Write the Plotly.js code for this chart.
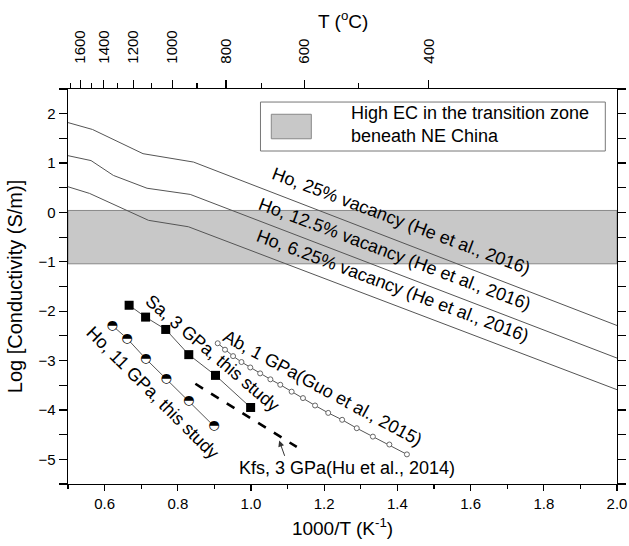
<!DOCTYPE html>
<html>
<head>
<meta charset="utf-8">
<script src="https://cdn.plot.ly/plotly-3.0.1.min.js"></script>
<style>html,body{margin:0;padding:0;background:#fff}#chart{width:629px;height:546px}</style>
</head>
<body>
<div id="chart"></div>
<script>
// ---- Data ----
const vac25X = [0.5, 0.567, 0.705, 0.843, 2.0];
const vac25Y = [1.82, 1.68, 1.19, 1.02, -2.29];
const vac125X = [0.5, 0.563, 0.624, 0.716, 0.834, 2.0];
const vac125Y = [1.15, 1.05, 0.75, 0.49, 0.365, -2.95];
const vac625X = [0.5, 0.559, 0.72, 0.829, 2.0];
const vac625Y = [0.52, 0.385, -0.16, -0.29, -3.59];

const saX = [0.667, 0.712, 0.767, 0.830, 0.903, 0.999];
const saY = [-1.88, -2.12, -2.37, -2.88, -3.30, -3.95];

const ho11X = [0.621, 0.661, 0.712, 0.768, 0.830, 0.899];
const ho11Y = [-2.29, -2.55, -2.96, -3.37, -3.82, -4.33];

const abX = [0.909, 0.929, 0.951, 0.974, 0.998, 1.025, 1.053, 1.080, 1.111, 1.142, 1.175, 1.211, 1.249, 1.289, 1.333, 1.378, 1.426];
const abY = [-2.65, -2.78, -2.91, -3.03, -3.14, -3.26, -3.38, -3.49, -3.63, -3.76, -3.91, -4.06, -4.20, -4.37, -4.54, -4.70, -4.90];

const kfsX = [0.848, 1.125];
const kfsY = [-3.47, -4.75];

const ecBand = [-1.04, 0.04];

const topTempMajor = [1600, 1400, 1200, 1000, 800, 600, 400];
const topTempMinor = [1700, 1500, 1300, 1100, 900, 700, 500];

const labels = {
  vac25: 'Ho, 25% vacancy (He et al., 2016)',
  vac125: 'Ho, 12.5% vacancy (He et al., 2016)',
  vac625: 'Ho, 6.25% vacancy (He et al., 2016)',
  ab: 'Ab, 1 GPa(Guo et al., 2015)',
  sa: 'Sa, 3 GPa, this study',
  ho11: 'Ho, 11 GPa, this study',
  kfs: 'Kfs, 3 GPa(Hu et al., 2014)',
  legend: 'High EC in the transition zone<br>beneath NE China',
  topTitle: 'T (<sup>o</sup>C)'
};

// ---- helpers ----
const toInvK = t => 1000 / (t + 273.15);
const FONT = 'Liberation Sans, Arial, sans-serif';
const LINEC = '#555';

const traces = [
  {x: vac25X, y: vac25Y, mode: 'lines', line: {color: LINEC, width: 1}, hoverinfo: 'skip'},
  {x: vac125X, y: vac125Y, mode: 'lines', line: {color: LINEC, width: 1}, hoverinfo: 'skip'},
  {x: vac625X, y: vac625Y, mode: 'lines', line: {color: LINEC, width: 1}, hoverinfo: 'skip'},
  {x: kfsX, y: kfsY, mode: 'lines', line: {color: '#000', width: 2.6, dash: '9px,9.5px'}, hoverinfo: 'skip'},
  {x: abX, y: abY, mode: 'lines+markers', line: {color: LINEC, width: 1},
   marker: {symbol: 'circle', size: 5, color: '#fff', line: {color: '#666', width: 1}}},
  {x: saX, y: saY, mode: 'lines+markers', line: {color: LINEC, width: 1},
   marker: {symbol: 'square', size: 9, color: '#000', line: {width: 0}}},
  {x: ho11X, y: ho11Y, mode: 'lines+markers', line: {color: LINEC, width: 1},
   marker: {symbol: 'circle', size: 9, color: '#fff', line: {width: 0}}},
  {x: ho11X, y: ho11Y, mode: 'text', text: ho11X.map(() => '\u25D3'),
   textposition: 'middle center', textfont: {family: 'DejaVu Sans', size: 13, color: '#000'}, hoverinfo: 'skip'},
  // dummy trace to activate the top temperature axis
  {x: [0.5], y: [null], xaxis: 'x2', yaxis: 'y', mode: 'markers', hoverinfo: 'skip'}
];

const ann = (text, x, y, angle) => ({text, x, y, xref: 'x', yref: 'y', showarrow: false,
  textangle: angle, font: {family: FONT, size: 18, color: '#000'}});

const layout = {
  width: 629, height: 546,
  margin: {l: 68, r: 12, t: 89, b: 62},
  paper_bgcolor: '#fff', plot_bgcolor: '#fff',
  showlegend: false,
  font: {family: FONT, size: 15, color: '#000'},
  xaxis: {
    range: [0.5, 2.0], tick0: 0, dtick: 0.2, tickformat: '.1f',
    ticks: 'outside', ticklen: 6, tickwidth: 1.3, tickcolor: '#000',
    showline: true, linewidth: 1.3, linecolor: '#000', showgrid: false, zeroline: false,
    minor: {dtick: 0.1, ticks: 'outside', ticklen: 4, tickwidth: 1.2, tickcolor: '#000', showgrid: false},
    tickfont: {size: 15},
    title: {text: '1000/T (K<sup>-1</sup>)', font: {size: 19}, standoff: 10}
  },
  xaxis2: {
    overlaying: 'x', side: 'top', range: [0.5, 2.0], anchor: 'y',
    tickmode: 'array', tickvals: topTempMajor.map(toInvK), ticktext: topTempMajor.map(String),
    tickangle: -90, ticks: 'outside', ticklen: 8, tickwidth: 1.3, tickcolor: '#000',
    ticklabelstandoff: 13,
    showline: true, linewidth: 1.3, linecolor: '#000', showgrid: false, zeroline: false,
    minor: {tickmode: 'array', tickvals: topTempMinor.map(toInvK), ticks: 'outside', ticklen: 5, tickwidth: 1.2, tickcolor: '#000', showgrid: false},
    tickfont: {size: 15}
  },
  yaxis: {
    range: [-5.5, 2.5], tick0: 0, dtick: 1,
    ticks: 'outside', ticklen: 8, tickwidth: 1.3, tickcolor: '#000', mirror: 'allticks',
    showline: true, linewidth: 1.3, linecolor: '#000', showgrid: false, zeroline: false,
    minor: {dtick: 0.5, ticks: 'outside', ticklen: 5, tickwidth: 1.2, tickcolor: '#000', showgrid: false},
    tickfont: {size: 15},
    title: {text: 'Log [Conductivity (S/m)]', font: {size: 20}, standoff: 10}
  },
  shapes: [
    {type: 'rect', xref: 'paper', yref: 'y', x0: 0, x1: 1, y0: ecBand[0], y1: ecBand[1],
     fillcolor: '#c8c8c8', line: {color: '#888', width: 1}, layer: 'below'},
    // legend box and swatch
    {type: 'rect', xref: 'paper', yref: 'paper', x0: 0.3506, x1: 0.9787, y0: 0.843, y1: 0.967,
     fillcolor: '#fff', line: {color: '#777', width: 1}},
    {type: 'rect', xref: 'paper', yref: 'paper', x0: 0.3703, x1: 0.4432, y0: 0.874, y1: 0.936,
     fillcolor: '#c8c8c8', line: {color: '#888', width: 1}}
  ],
  annotations: [
    ann(labels.vac25, 1.4098, -0.178, 20.6),
    ann(labels.vac125, 1.3912, -0.851, 20.6),
    ann(labels.vac625, 1.3871, -1.493, 20.6),
    ann(labels.ab, 1.1945, -3.56, 28.5),
    ann(labels.sa, 0.894, -2.845, 40.4),
    ann(labels.ho11, 0.7317, -3.662, 45),
    ann(labels.kfs, 1.2628, -5.18, 0),
    {text: '', x: 1.077, y: -4.62, ax: 1.0934, ay: -4.96, axref: 'x', ayref: 'y', xref: 'x', yref: 'y',
     showarrow: true, arrowhead: 2, arrowsize: 1.2, arrowwidth: 1, arrowcolor: '#333', standoff: 0},
    {text: labels.legend, xref: 'paper', yref: 'paper', x: 0.5118, y: 0.911, xanchor: 'left', yanchor: 'middle',
     align: 'left', showarrow: false, font: {family: FONT, size: 18, color: '#000'}},
    {text: labels.topTitle, xref: 'paper', yref: 'paper', x: 0.5, y: 1.1747, xanchor: 'center', yanchor: 'middle',
     showarrow: false, font: {family: FONT, size: 19, color: '#000'}}
  ]
};

Plotly.newPlot('chart', traces, layout, {staticPlot: true, displayModeBar: false});
</script>
</body>
</html>
